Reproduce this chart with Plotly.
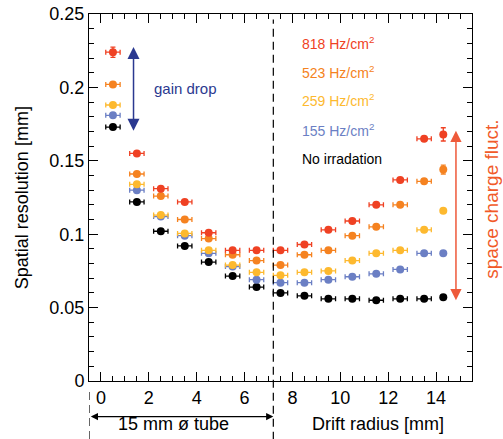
import plotly.graph_objects as go

# ---- data ----
radius = [0.5, 1.5, 2.5, 3.5, 4.5, 5.5, 6.5, 7.5, 8.5, 9.5, 10.5, 11.5, 12.5, 13.5, 14.3]
res_818 = [0.224, 0.155, 0.131, 0.122, 0.101, 0.089, 0.089, 0.089, 0.093, 0.103, 0.109, 0.120, 0.137, 0.165, 0.168]
res_523 = [0.202, 0.141, 0.126, 0.110, 0.097, 0.086, 0.082, 0.079, 0.086, 0.089, 0.099, 0.105, 0.120, 0.136, 0.144]
res_259 = [0.188, 0.134, 0.113, 0.1005, 0.089, 0.079, 0.074, 0.072, 0.074, 0.075, 0.082, 0.087, 0.089, 0.103, 0.116]
res_155 = [0.181, 0.130, 0.112, 0.099, 0.087, 0.078, 0.069, 0.067, 0.067, 0.069, 0.071, 0.073, 0.076, 0.087, 0.087]
res_0 = [0.173, 0.122, 0.102, 0.092, 0.081, 0.0715, 0.064, 0.060, 0.058, 0.056, 0.056, 0.055, 0.056, 0.056, 0.057]

xerr = [0.3] * 14 + [0.0]
yerr_818 = [0.0035] + [0.0] * 13 + [0.0045]
yerr_523 = [0.0] * 14 + [0.003]
yerr_259 = [0.0] * 15
yerr_155 = [0.0] * 15
yerr_0 = [0.0] * 15

labels = ["818 Hz/cm<sup>2</sup>", "523 Hz/cm<sup>2</sup>", "259 Hz/cm<sup>2</sup>",
          "155 Hz/cm<sup>2</sup>", "No irradation"]
colors = ["#EF4123", "#F58220", "#FDB92F", "#6B7FC4", "#000000"]

x_ticks = [0, 2, 4, 6, 8, 10, 12, 14]
y_ticks = [0, 0.05, 0.1, 0.15, 0.2, 0.25]
y_ticklabels = ["0", "0.05", "0.1", "0.15", "0.2", "0.25"]

FONT = "Liberation Sans, Arial, Helvetica, sans-serif"

series = [
    (res_0, yerr_0, colors[4]),
    (res_155, yerr_155, colors[3]),
    (res_259, yerr_259, colors[2]),
    (res_523, yerr_523, colors[1]),
    (res_818, yerr_818, colors[0]),
]

fig = go.Figure()
for vals, ey, col in series:
    fig.add_trace(go.Scatter(
        x=radius, y=vals, mode="markers",
        marker=dict(color=col, size=8, line=dict(width=0)),
        error_x=dict(type="data", array=xerr, color=col, thickness=1.3, width=2.5),
        error_y=dict(type="data", array=ey, color=col, thickness=1.3, width=2.5),
        showlegend=False, hoverinfo="skip",
    ))

axis_common = dict(showline=True, linecolor="black", linewidth=1, mirror="allticks",
                   ticks="inside", tickcolor="black", showgrid=False, zeroline=False,
                   automargin=False, ticklabeloverflow="allow",
                   tickfont=dict(family=FONT, size=18, color="black"))

fig.update_xaxes(range=[-0.5, 15.5], tickvals=x_ticks, ticklen=9, tickwidth=1,
                 minor=dict(dtick=0.5, tick0=0, ticks="inside", ticklen=5, tickcolor="black"),
                 **axis_common)
fig.update_yaxes(range=[0, 0.25], tickvals=y_ticks, ticktext=y_ticklabels, ticklen=9, tickwidth=1,
                 minor=dict(dtick=0.01, tick0=0, ticks="inside", ticklen=5, tickcolor="black"),
                 **axis_common)

# dashed tube-edge line
fig.add_shape(type="line", xref="x", yref="paper", x0=7.2, x1=7.2, y0=-0.16, y1=0.985,
              line=dict(color="black", width=1.2, dash="8px,5px"))
fig.add_shape(type="line", xref="x", yref="paper", x0=-0.5, x1=-0.5, y0=-0.03, y1=-0.16,
              line=dict(color="black", width=1.2, dash="8px,5px"))

ann = []
# series labels
label_y = [0.922, 0.843, 0.766, 0.684, 0.604]
for lab, col, yy in zip(labels, colors, label_y):
    ann.append(dict(xref="paper", yref="paper", x=0.55, y=yy, text=lab, showarrow=False,
                    xanchor="left", yanchor="middle", font=dict(family=FONT, size=14, color=col)))

# gain drop arrow
ann.append(dict(xref="x", yref="y", axref="x", ayref="y", x=1.36, y=0.2275, ax=1.36, ay=0.1695,
                text="", showarrow=True, arrowhead=2, arrowside="end+start", arrowsize=1.6,
                arrowwidth=1.5, arrowcolor="#2B3990"))
ann.append(dict(xref="x", yref="y", x=3.53, y=0.1995, text="gain drop", showarrow=False,
                font=dict(family=FONT, size=15, color="#2B3990")))

# space charge arrow
ann.append(dict(xref="x", yref="y", axref="x", ayref="y", x=14.83, y=0.1705, ax=14.83, ay=0.054,
                text="", showarrow=True, arrowhead=2, arrowside="end+start", arrowsize=1.5,
                arrowwidth=1.5, arrowcolor="#EE5A3A"))
ann.append(dict(xref="paper", yref="paper", x=1.051, y=0.495, text="space charge fluct.",
                textangle=-90, showarrow=False, xanchor="center", yanchor="middle",
                font=dict(family=FONT, size=19, color="#F15A29")))

# tube diameter arrow
ann.append(dict(xref="x", yref="paper", x=7.2, y=-0.097, ax=-184, ay=0,
                text="", showarrow=True, arrowhead=2, arrowside="end+start", arrowsize=1.2,
                arrowwidth=1.2, arrowcolor="black"))
ann.append(dict(xref="paper", yref="paper", x=(173.3 - 89) / 383, y=(381 - 424) / 367,
                text="15 mm ø tube", showarrow=False, xanchor="center", yanchor="middle",
                font=dict(family=FONT, size=18, color="black")))
ann.append(dict(xref="paper", yref="paper", x=(378.3 - 89) / 383, y=(381 - 424) / 367,
                text="Drift radius [mm]", showarrow=False, xanchor="center", yanchor="middle",
                font=dict(family=FONT, size=18, color="black")))
ann.append(dict(xref="paper", yref="paper", x=(21.7 - 89) / 383, y=0.5,
                text="Spatial resolution [mm]", textangle=-90, showarrow=False,
                xanchor="center", yanchor="middle",
                font=dict(family=FONT, size=18, color="black")))

fig.update_layout(
    width=503, height=439,
    margin=dict(l=89, r=31, t=14, b=58, autoexpand=False),
    paper_bgcolor="white", plot_bgcolor="white",
    annotations=ann,
)

# remove the browser's default 8px body margin so the figure fills the window
fig.write_html("out.html",
               config={"displayModeBar": False, "staticPlot": True},
               post_script="document.body.style.margin='0px';document.body.style.overflow='hidden';")
